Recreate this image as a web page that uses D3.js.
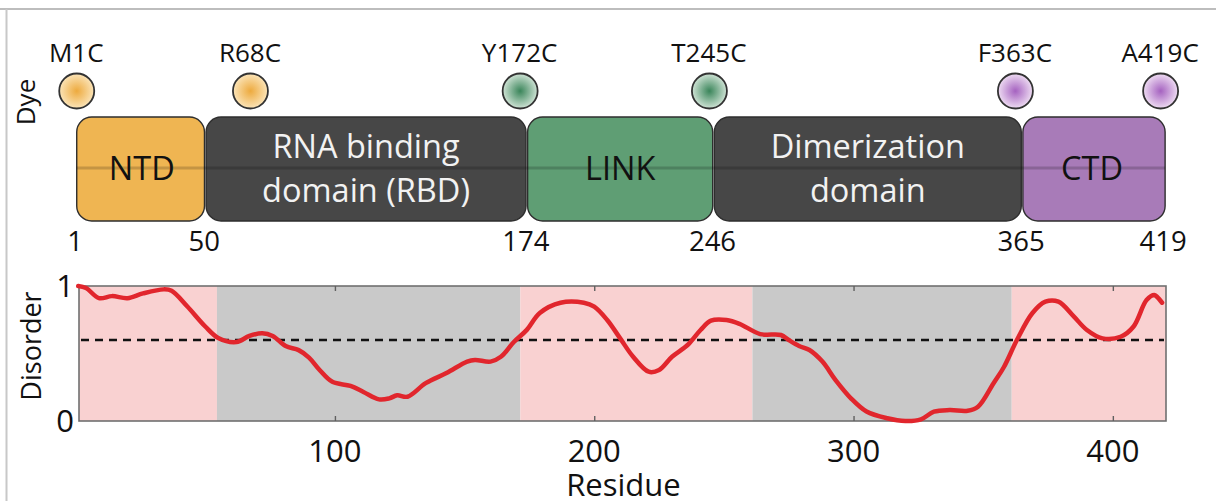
<!DOCTYPE html>
<html>
<head>
<meta charset="utf-8">
<script src="https://cdn.jsdelivr.net/npm/d3@7/dist/d3.min.js"></script>
<style>
  html, body { margin: 0; padding: 0; background: #fff; }
  svg { display: block; font-family: "Open Sans", "Noto Sans", sans-serif; }
</style>
</head>
<body>
<svg id="chart" width="1216" height="501"></svg>
<script>
// ---------- data ----------
const domainNames = ["NTD", "RNA binding|domain (RBD)", "LINK", "Dimerization|domain", "CTD"];
const domainStart = [1, 50, 174, 246, 365];
const domainEnd   = [50, 174, 246, 365, 419];
const domainColor = ["#EFB552", "#474747", "#5F9E74", "#474747", "#A87BB8"];
const domainText  = ["#111", "#f2f2f2", "#111", "#f2f2f2", "#111"];
const boundaryLabels = [1, 50, 174, 246, 365, 419];

const dyeLabels   = ["M1C", "R68C", "Y172C", "T245C", "F363C", "A419C"];
const dyeResidues = [1, 68, 172, 245, 363, 419];
const dyeGroup    = [0, 0, 1, 1, 2, 2];

const bandStart = [1.3, 54.5, 171.5, 261, 361];
const bandEnd   = [54.5, 171.5, 261, 361, 420.5];
const bandType  = ["dis", "ord", "dis", "ord", "dis"];

const residues = [1,4,9,14,20,26,34,37,43,50,55,62,67,72,76,81,86,90,94,99,106,111,117,121,124,128,135,143,151,154,160,164,169,174,179,187,196,200,205,210,215,221,225,230,236,241,245,251,256,264,272,275,279,283,288,293,299,305,313,320,326,331,337,344,348,354,358,363,369,374,379,385,390,396,403,408,413,416,417,419];
const disorder = [1.0,0.985,0.91,0.925,0.91,0.945,0.975,0.965,0.85,0.70,0.615,0.585,0.63,0.65,0.63,0.555,0.525,0.47,0.38,0.29,0.26,0.215,0.16,0.168,0.19,0.18,0.28,0.355,0.44,0.452,0.44,0.476,0.585,0.675,0.80,0.876,0.876,0.847,0.748,0.612,0.476,0.365,0.378,0.476,0.563,0.674,0.743,0.748,0.72,0.644,0.637,0.60,0.556,0.526,0.44,0.305,0.168,0.07,0.02,0.0,0.012,0.069,0.081,0.076,0.106,0.28,0.40,0.60,0.80,0.884,0.884,0.773,0.674,0.612,0.624,0.70,0.896,0.933,0.92,0.876];
const threshold = 0.6;
const xTicks = [100, 200, 300, 400];
const yTicks = [0, 1];

// ---------- layout ----------
const svg = d3.select("#chart");
const W = 1216, H = 501;
const plot = { left: 79, right: 1166, top: 286, bottom: 421 };

const x = d3.scaleLinear().domain([1.3, 420.5]).range([plot.left, plot.right]);
const y = d3.scaleLinear().domain([0, 1]).range([plot.bottom, plot.top]);

svg.append("rect").attr("width", W).attr("height", H).attr("fill", "#fff");

// frame lines of the original figure panel
svg.append("line").attr("x1", 0).attr("x2", W).attr("y1", 9).attr("y2", 9)
  .attr("stroke", "#bdbdbd").attr("stroke-width", 2);
svg.append("line").attr("x1", 6.5).attr("x2", 6.5).attr("y1", 9).attr("y2", H)
  .attr("stroke", "#c8c8c8").attr("stroke-width", 2);

// ---------- gradients for dyes ----------
const defs = svg.append("defs");
const gradStops = [
  ["#EDAA3E", "#FBE4B8"],
  ["#3A855A", "#CFE3D5"],
  ["#A562C0", "#EEDCF2"]
];
gradStops.forEach((g, i) => {
  const rg = defs.append("radialGradient").attr("id", "dg" + i)
    .attr("cx", "50%").attr("cy", "50%").attr("r", "50%");
  rg.append("stop").attr("offset", "0%").attr("stop-color", g[0]);
  rg.append("stop").attr("offset", "100%").attr("stop-color", g[1]);
});

// ---------- top: dye positions ----------
const dyeY = 91;
svg.append("g").selectAll("circle").data(dyeResidues).join("circle")
  .attr("cx", d => x(d) - 1.5)
  .attr("cy", dyeY)
  .attr("r", 17.5)
  .attr("fill", (d, i) => `url(#dg${dyeGroup[i]})`)
  .attr("stroke", "#333").attr("stroke-width", 1.8);

svg.append("g").selectAll("text").data(dyeLabels).join("text")
  .attr("x", (d, i) => x(dyeResidues[i]) - 2)
  .attr("y", 62)
  .attr("text-anchor", "middle")
  .attr("font-size", 26)
  .attr("fill", "#111")
  .text(d => d);

svg.append("text")
  .attr("transform", "translate(35,102) rotate(-90)")
  .attr("text-anchor", "middle")
  .attr("font-size", 26)
  .attr("fill", "#111")
  .text("Dye");

// ---------- domain boxes ----------
const boxTop = 117, boxBot = 221;
const boxes = svg.append("g");
domainNames.forEach((name, i) => {
  const x0 = x(domainStart[i]) + (i === 0 ? -1.5 : 0.8);
  const x1 = x(domainEnd[i]) + (i === domainNames.length - 1 ? 3 : -0.8);
  boxes.append("rect")
    .attr("x", x0).attr("y", boxTop)
    .attr("width", x1 - x0).attr("height", boxBot - boxTop)
    .attr("rx", 15).attr("ry", 15)
    .attr("fill", domainColor[i])
    .attr("stroke", "#2e2e2e").attr("stroke-width", 1.4);
});
// faint connecting line across the boxes
svg.append("line")
  .attr("x1", x(1) - 1.5).attr("x2", x(419) + 3)
  .attr("y1", 168).attr("y2", 168)
  .attr("stroke", "rgba(0,0,0,0.18)").attr("stroke-width", 3);

domainNames.forEach((name, i) => {
  const cx = (x(domainStart[i]) + x(domainEnd[i])) / 2;
  const lines = name.split("|");
  const t = svg.append("text")
    .attr("text-anchor", "middle")
    .attr("font-size", 32.5)
    .attr("fill", domainText[i]);
  if (lines.length === 1) {
    t.append("tspan").attr("x", cx).attr("y", 180).text(lines[0]);
  } else {
    t.append("tspan").attr("x", cx).attr("y", 158).text(lines[0]);
    t.append("tspan").attr("x", cx).attr("y", 202).text(lines[1]);
  }
});

svg.append("g").selectAll("text").data(boundaryLabels).join("text")
  .attr("x", (d, i) => x(d) + (i === 0 ? -3 : (i === boundaryLabels.length - 1 ? 1 : -1)))
  .attr("y", 251)
  .attr("text-anchor", "middle")
  .attr("font-size", 27.5)
  .attr("fill", "#111")
  .text(d => d);

// ---------- disorder plot ----------
const bandColor = { dis: "#F9D1D1", ord: "#C9C9C9" };
svg.append("g").selectAll("rect").data(bandStart).join("rect")
  .attr("x", (d) => x(d))
  .attr("y", plot.top)
  .attr("width", (d, i) => x(bandEnd[i]) - x(d))
  .attr("height", plot.bottom - plot.top)
  .attr("fill", (d, i) => bandColor[bandType[i]]);

// threshold
svg.append("line")
  .attr("x1", plot.left + 2).attr("x2", plot.right - 2)
  .attr("y1", y(threshold)).attr("y2", y(threshold))
  .attr("stroke", "#111").attr("stroke-width", 2.4)
  .attr("stroke-dasharray", "8,6");

// frame
svg.append("rect")
  .attr("x", plot.left).attr("y", plot.top)
  .attr("width", plot.right - plot.left).attr("height", plot.bottom - plot.top)
  .attr("fill", "none").attr("stroke", "#707070").attr("stroke-width", 1.6);

// ticks (bottom & top, inward)
const xAxisB = d3.axisBottom(x).tickValues(xTicks).tickSize(-5).tickFormat("");
const xAxisT = d3.axisTop(x).tickValues(xTicks).tickSize(-5).tickFormat("");
const gb = svg.append("g").attr("transform", `translate(0,${plot.bottom})`).call(xAxisB);
const gt = svg.append("g").attr("transform", `translate(0,${plot.top})`).call(xAxisT);
[gb, gt].forEach(g => {
  g.select(".domain").remove();
  g.selectAll("line").attr("stroke", "#606060").attr("stroke-width", 1.4);
});

// tick labels
svg.append("g").selectAll("text").data(xTicks).join("text")
  .attr("x", d => x(d))
  .attr("y", 462)
  .attr("text-anchor", "middle")
  .attr("font-size", 31)
  .attr("fill", "#111")
  .text(d => d);

svg.append("g").selectAll("text").data(yTicks).join("text")
  .attr("x", 74)
  .attr("y", d => y(d) + 11)
  .attr("text-anchor", "end")
  .attr("font-size", 31)
  .attr("fill", "#111")
  .text(d => d);

svg.append("text")
  .attr("x", (plot.left + plot.right) / 2 + 1)
  .attr("y", 496)
  .attr("text-anchor", "middle")
  .attr("font-size", 31)
  .attr("fill", "#111")
  .text("Residue");

svg.append("text")
  .attr("transform", "translate(41,346) rotate(-90)")
  .attr("text-anchor", "middle")
  .attr("font-size", 27)
  .attr("fill", "#111")
  .text("Disorder");

// disorder curve
const line = d3.line()
  .x((d, i) => x(residues[i]))
  .y(d => y(d))
  .curve(d3.curveCatmullRom.alpha(0.5));

svg.append("path")
  .datum(disorder)
  .attr("d", line)
  .attr("fill", "none")
  .attr("stroke", "#E1262D")
  .attr("stroke-width", 4.5)
  .attr("stroke-linecap", "round")
  .attr("stroke-linejoin", "round");
</script>
</body>
</html>
